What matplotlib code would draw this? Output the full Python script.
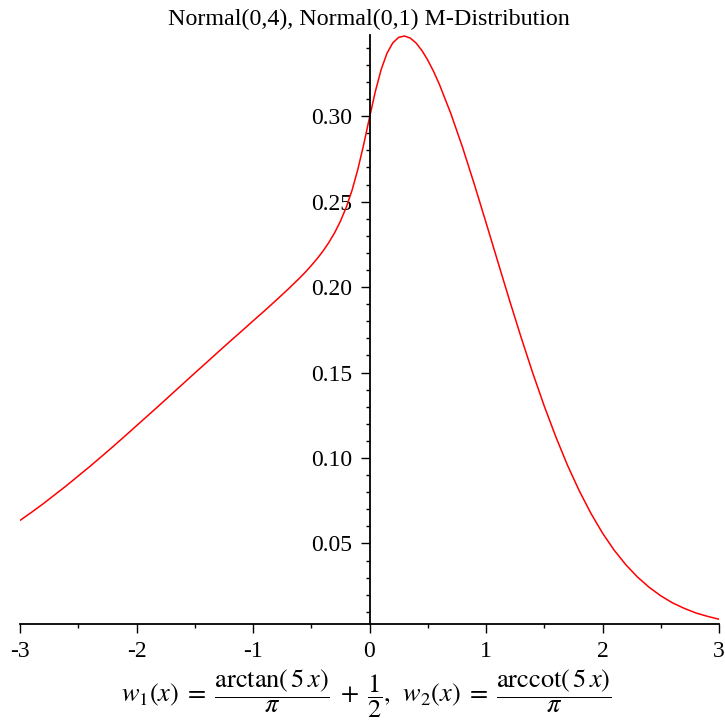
import matplotlib
matplotlib.use("Agg")
import matplotlib.pyplot as plt
from matplotlib.ticker import FixedLocator, MultipleLocator

plt.rcParams['font.family'] = ['Liberation Serif', 'DejaVu Serif']
plt.rcParams['mathtext.fontset'] = 'stix'

# Data
x_vals = [-3.0, -2.9, -2.8, -2.7, -2.6, -2.5, -2.4, -2.3, -2.2, -2.1,
          -2.0, -1.9, -1.8, -1.7, -1.6, -1.5, -1.4, -1.3, -1.2, -1.1,
          -1.0, -0.9, -0.8, -0.7, -0.6, -0.55, -0.5, -0.45, -0.4, -0.35,
          -0.3, -0.25, -0.2, -0.15, -0.1, -0.05, 0.0, 0.05, 0.1, 0.15,
          0.2, 0.25, 0.3, 0.35, 0.4, 0.45, 0.5, 0.55, 0.6, 0.7,
          0.8, 0.9, 1.0, 1.1, 1.2, 1.3, 1.4, 1.5, 1.6, 1.7,
          1.8, 1.9, 2.0, 2.1, 2.2, 2.3, 2.4, 2.5, 2.6, 2.7,
          2.8, 2.9, 3.0]
density = [0.0635, 0.0683, 0.0733, 0.0786, 0.0839, 0.0895, 0.0951, 0.1009, 0.1068, 0.1128,
           0.1189, 0.1250, 0.1311, 0.1373, 0.1435, 0.1497, 0.1558, 0.1620, 0.1681, 0.1741,
           0.1802, 0.1862, 0.1924, 0.1987, 0.2053, 0.2088, 0.2126, 0.2166, 0.2210, 0.2260,
           0.2317, 0.2385, 0.2466, 0.2566, 0.2689, 0.2834, 0.2992, 0.3144, 0.3273, 0.3368,
           0.3429, 0.3461, 0.3469, 0.3457, 0.3428, 0.3384, 0.3328, 0.3262, 0.3186, 0.3012,
           0.2815, 0.2601, 0.2378, 0.2152, 0.1927, 0.1709, 0.1500, 0.1304, 0.1123, 0.0957,
           0.0809, 0.0677, 0.0561, 0.0461, 0.0376, 0.0304, 0.0244, 0.0194, 0.0153, 0.0121,
           0.0094, 0.0074, 0.0057]

x_ticks = [-3, -2, -1, 0, 1, 2, 3]
x_ticklabels = ['-3', '-2', '-1', '0', '1', '2', '3']
y_ticks = [0.05, 0.10, 0.15, 0.20, 0.25, 0.30]
y_ticklabels = ['0.05', '0.10', '0.15', '0.20', '0.25', '0.30']

title = 'Normal(0,4), Normal(0,1) M-Distribution'
xlabel = (r'$w_1(x)\; =\; \dfrac{\mathrm{arctan}(\,5\,x)}{\pi}\; +\; \dfrac{1}{2},\;\,'
          r'w_2(x)\; =\; \dfrac{\mathrm{arccot}(\,5\,x)}{\pi}$')

W, H = 725, 723
fig = plt.figure(figsize=(W / 100, H / 100), dpi=100)
ax = fig.add_axes([20 / W, (H - 624) / H, 699 / W, 589 / H])

ax.plot(x_vals, density, color='#ff0000', lw=1.1, solid_joinstyle='round')

ax.set_xlim(-3, 3)
ax.set_ylim(0.0029, 0.3475)

for s in ['top', 'right']:
    ax.spines[s].set_visible(False)
ax.spines['left'].set_position(('data', 0))
ax.spines['left'].set_linewidth(1.3)
ax.spines['bottom'].set_linewidth(1.3)

ax.xaxis.set_major_locator(FixedLocator(x_ticks))
ax.set_xticklabels(x_ticklabels)
ax.xaxis.set_minor_locator(MultipleLocator(0.5))
ax.yaxis.set_major_locator(FixedLocator(y_ticks))
ax.set_yticklabels(y_ticklabels)
ax.yaxis.set_minor_locator(MultipleLocator(0.01))

ax.tick_params(axis='both', which='major', direction='out', length=6.5, width=1.0,
               labelsize=17, color='black')
ax.tick_params(axis='both', which='minor', direction='out', length=3.2, width=1.0)
ax.tick_params(axis='x', which='major', pad=5.5)
ax.tick_params(axis='y', which='major', pad=6)

fig.text(369 / W, 1 - 19 / H, title, ha='center', va='center', fontsize=17.3)
fig.text(366 / W, 1 - 694 / H, xlabel, ha='center', va='center', fontsize=19)

fig.savefig('out.png', dpi=100)
